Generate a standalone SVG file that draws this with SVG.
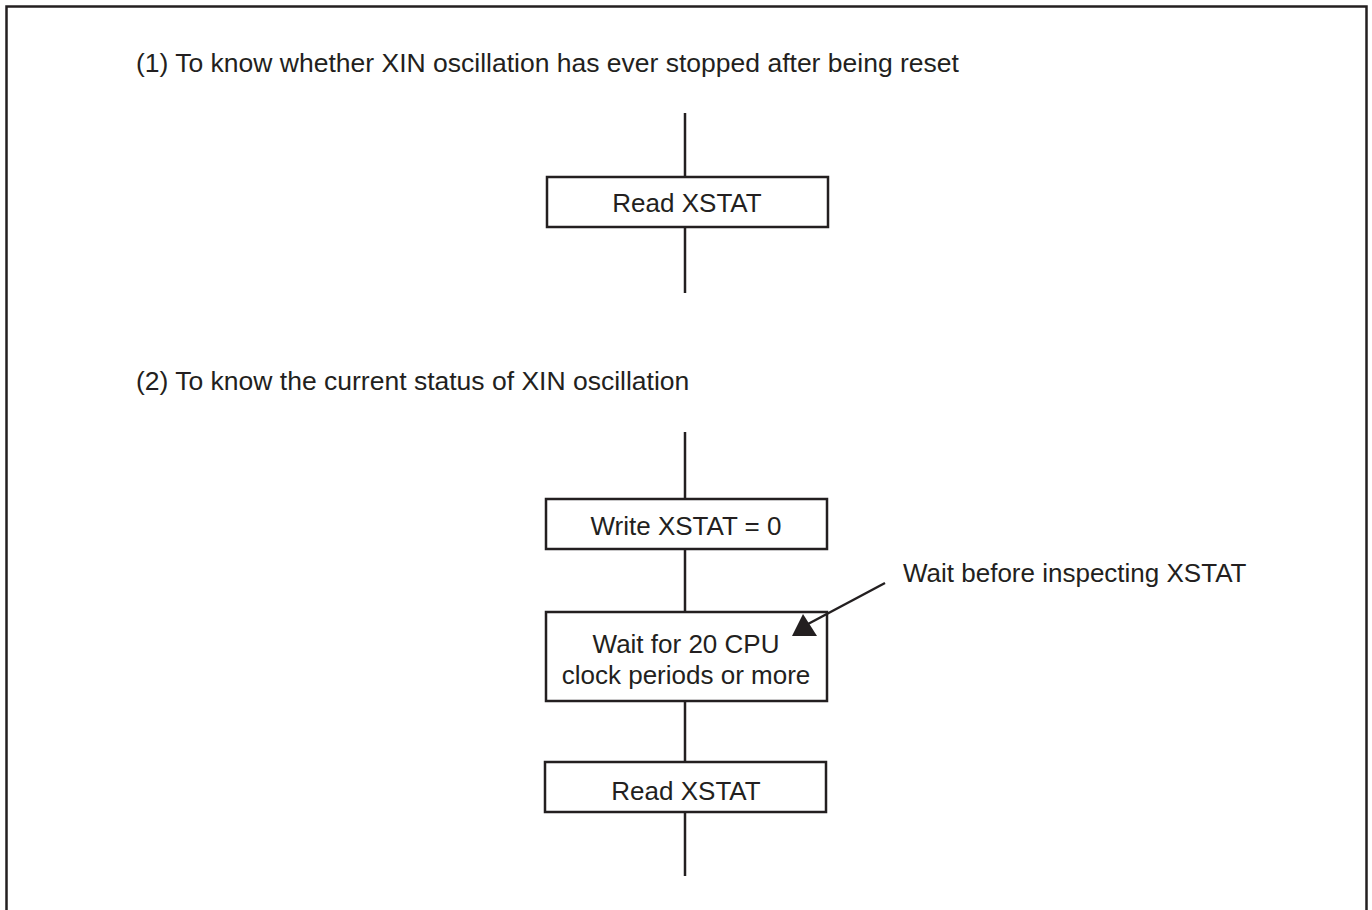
<svg xmlns="http://www.w3.org/2000/svg" width="1372" height="910" viewBox="0 0 1372 910">
<style>
text{font-family:"Liberation Sans",Arial,sans-serif;font-size:26px;fill:#231f20}
.box{fill:#fff;stroke:#231f20;stroke-width:2.5}
.ln{stroke:#231f20;stroke-width:2.5;fill:none}
.c{text-anchor:middle}
</style>
<rect x="0" y="0" width="1372" height="910" fill="#fff"/>
<path class="ln" d="M6.5,920 V6.5 H1366.5 V920" stroke-width="2"/>
<text x="136" y="72" style="font-size:26.5px">(1) To know whether XIN oscillation has ever stopped after being reset</text>
<text x="136" y="390" style="font-size:26.5px">(2) To know the current status of XIN oscillation</text>
<g id="n1"><rect class="box" x="547" y="177" width="281" height="50"/><text class="c" x="687" y="212">Read XSTAT</text></g>
<g id="n2"><rect class="box" x="546" y="499" width="281" height="50"/><text class="c" x="686" y="535">Write XSTAT = 0</text></g>
<g id="n3"><rect class="box" x="546" y="612" width="281" height="89"/><text class="c" x="686" y="653">Wait for 20 CPU</text><text class="c" x="686" y="684">clock periods or more</text></g>
<g id="n4"><rect class="box" x="545" y="762" width="281" height="50"/><text class="c" x="686" y="800">Read XSTAT</text></g>
<g id="connectors">
<line class="ln" x1="685" y1="113" x2="685" y2="177"/>
<line class="ln" x1="685" y1="227" x2="685" y2="293"/>
<line class="ln" x1="685" y1="432" x2="685" y2="499"/>
<line class="ln" x1="685" y1="549" x2="685" y2="612"/>
<line class="ln" x1="685" y1="701" x2="685" y2="762"/>
<line class="ln" x1="685" y1="812" x2="685" y2="876"/>
<line class="ln" x1="885" y1="583" x2="808" y2="624"/>
<polygon points="792,636 817,636 803,614" fill="#231f20"/>
</g>
<g id="note"><text x="903" y="582">Wait before inspecting XSTAT</text></g>
</svg>
